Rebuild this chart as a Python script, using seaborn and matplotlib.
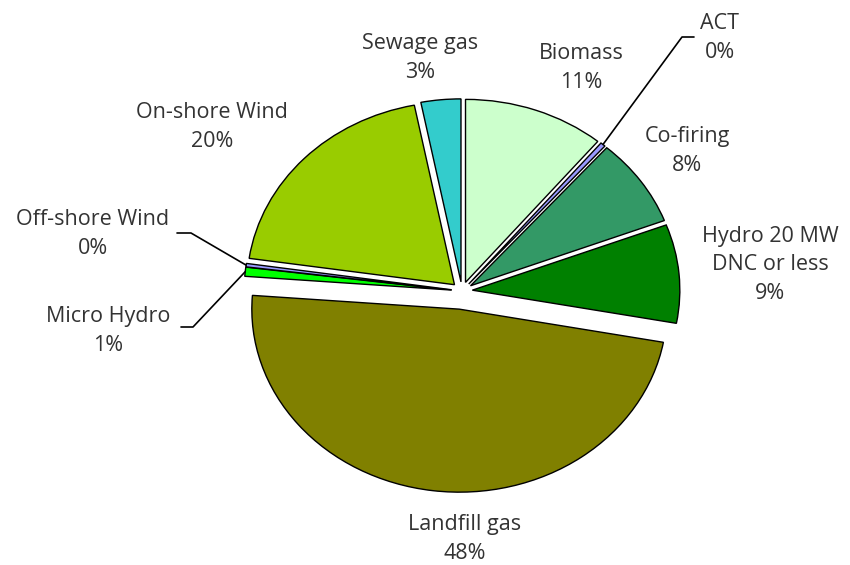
import numpy as np
import matplotlib
matplotlib.use("Agg")
import matplotlib.pyplot as plt
import seaborn as sns

# renewable sources, clockwise from 12 o'clock
sources = ["Biomass", "ACT", "Co-firing", "Hydro 20 MW\nDNC or less", "Landfill gas",
           "Micro Hydro", "Off-shore Wind", "On-shore Wind", "Sewage gas"]
shares = [11.0, 0.4, 7.8, 8.7, 48.3, 0.8, 0.3, 19.6, 3.1]
colors = ["#CCFFCC", "#9999FF", "#339966", "#008000", "#808000",
          "#00FF00", "#9999FF", "#99CC00", "#33CCCC"]

sns.set_theme(style="white")
plt.rcParams["font.family"] = ["Open Sans", "DejaVu Sans"]

W, H = 850, 565
CX, CY, RX, RY = 462, 291, 207.5, 183


def to_data(x, y):
    # pixel position in the picture -> pie data units
    return (x - CX) / RX, (CY - y) / RY


# label block centres (pixels)
label_pos = {
    "Biomass": (581, 68),
    "ACT": (720, 38),
    "Co-firing": (687, 151),
    "Hydro 20 MW\nDNC or less": (770, 265),
    "Landfill gas": (465, 539),
    "Micro Hydro": (108, 331),
    "Off-shore Wind": (93, 234),
    "On-shore Wind": (212, 127),
    "Sewage gas": (420, 58),
}
# leader line elbows (pixels)
leaders = {
    "ACT": [(682, 37), (694, 37)],
    "Off-shore Wind": [(191, 233), (177, 233)],
    "Micro Hydro": [(193, 327), (181, 327)],
}

fig = plt.figure(figsize=(W / 100, H / 100), dpi=100)
ax = fig.add_axes([0, 0, 1, 1])

explode = [0.1 if s == "Landfill gas" else 0.05 for s in sources]
wedges, _ = ax.pie(
    shares, colors=colors, explode=explode, startangle=90, counterclock=False,
    wedgeprops=dict(edgecolor="black", linewidth=1.0),
)
ax.set_aspect("auto")
ax.set_xlim(to_data(0, 0)[0], to_data(W, 0)[0])
ax.set_ylim(to_data(0, H)[1], to_data(0, 0)[1])
ax.axis("off")

for w, name, v in zip(wedges, sources, shares):
    x, y = to_data(*label_pos[name])
    ax.text(x, y, f"{name}\n{v:.0f}%", ha="center", va="center",
            fontsize=15.5, color="#333333", linespacing=1.45)
    if name in leaders:
        th = np.deg2rad((w.theta1 + w.theta2) / 2)
        xs = [w.center[0] + w.r * np.cos(th)]
        ys = [w.center[1] + w.r * np.sin(th)]
        for p in leaders[name]:
            px, py = to_data(*p)
            xs.append(px)
            ys.append(py)
        ax.plot(xs, ys, color="black", lw=1.2)

fig.savefig("out.png", dpi=100, facecolor="white")
